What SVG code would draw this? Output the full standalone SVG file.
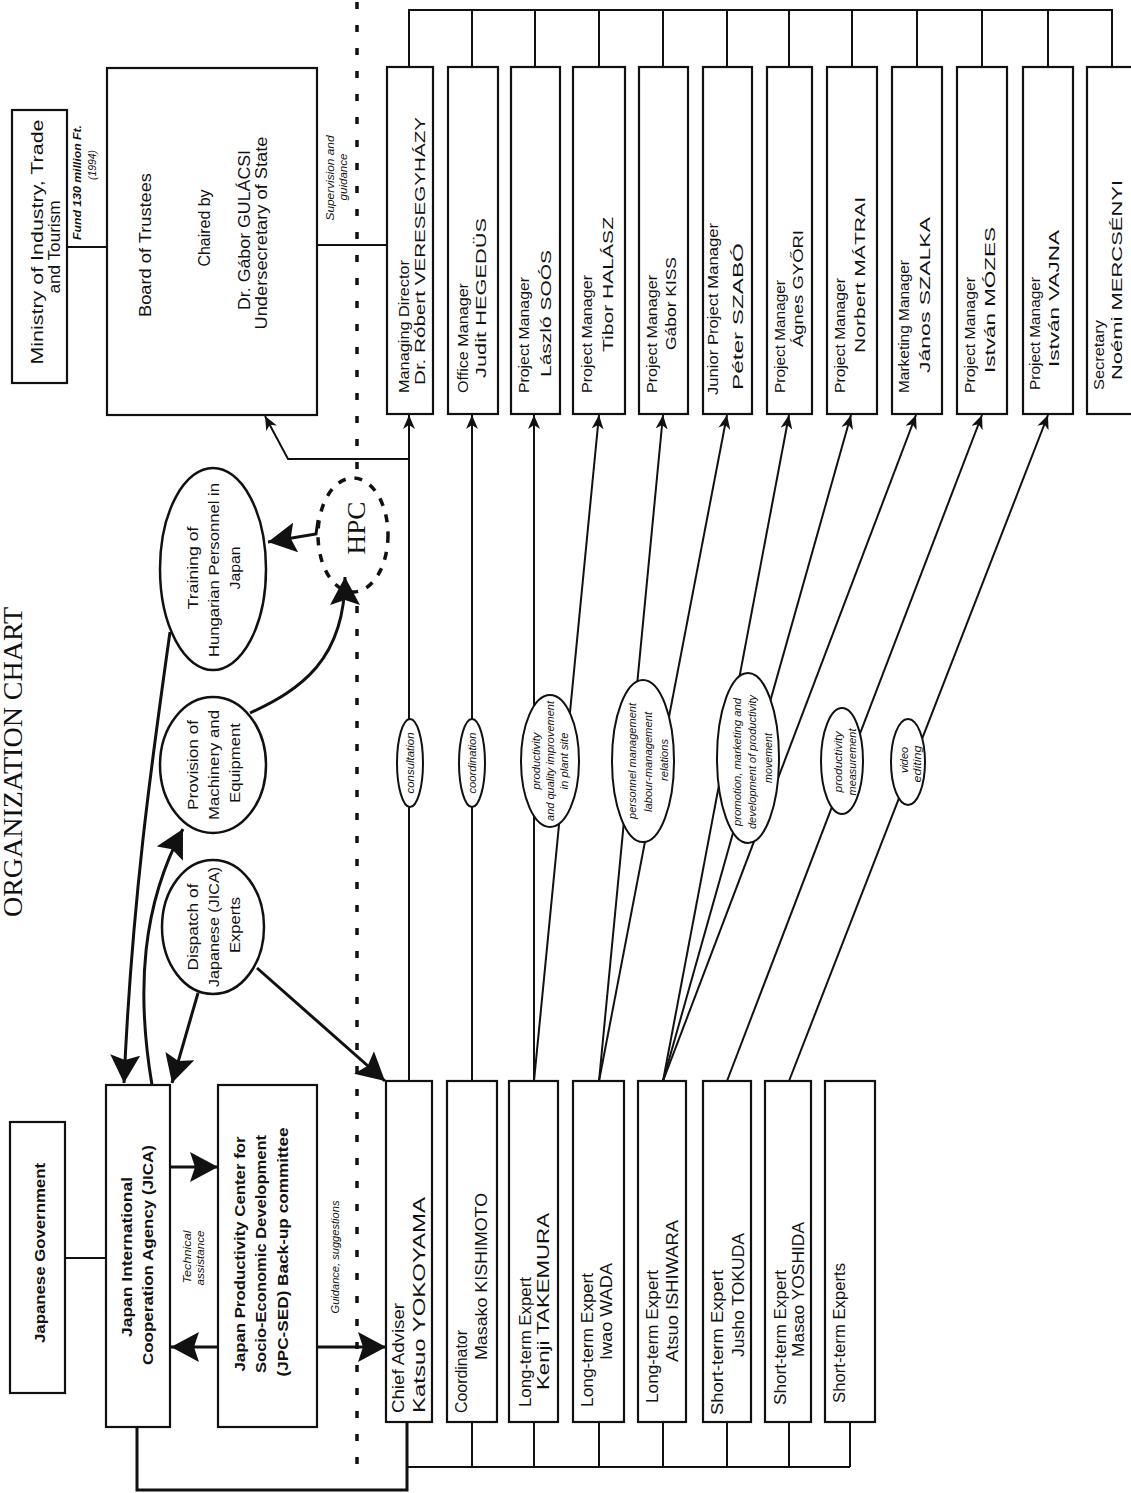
<svg xmlns="http://www.w3.org/2000/svg" width="1131" height="1493" viewBox="0 0 1131 1493">
<defs>
<style>
.box{fill:#fff;stroke:#111;stroke-width:2.2}
.ell{fill:#fff;stroke:#111;stroke-width:2.5}
.lab{fill:#fff;stroke:#111;stroke-width:2}
.ln{stroke:#111;stroke-width:2;fill:none}
.tk{stroke:#111;stroke-width:3;fill:none}
.dot{stroke:#111;stroke-width:3.5;stroke-dasharray:7 16;fill:none}
text{font-family:"Liberation Sans",Arial,sans-serif;fill:#111}
.n{font-size:15px}
.m{font-size:16px}
.b{font-weight:bold}
.s{font-size:11px;font-style:italic}
.c{text-anchor:middle}
</style>
<marker id="ar" viewBox="0 0 14 12" refX="14" refY="6" markerWidth="14" markerHeight="12" markerUnits="userSpaceOnUse" orient="auto"><path d="M0,0 L14,6 L0,12 L4,6 Z" fill="#111"/></marker>
<marker id="big" viewBox="0 0 28 30" refX="28" refY="15" markerWidth="28" markerHeight="30" markerUnits="userSpaceOnUse" orient="auto"><path d="M0,0 L28,15 L0,30 L5,15 Z" fill="#111"/></marker>
</defs>
<rect width="1131" height="1493" fill="#fff"/>

<text style="font-family:'Liberation Serif','Times New Roman',serif;font-size:27px" class="c" transform="translate(22 762) rotate(-90)" textLength="310" lengthAdjust="spacingAndGlyphs">ORGANIZATION CHART</text>

<path class="dot" d="M357,2 L357,470 M357,606 L357,1480"/>

<g id="connectors">
<path class="ln" d="M67,247 L107,247"/>
<path class="ln" d="M317,245 L387,245"/>
<path class="ln" d="M65,1258 L106,1258"/>
<path class="ln" d="M409,67 L409,10 L1112,10 L1112,67"/>
<path class="ln" d="M472,10 V67 M535,10 V67 M599,10 V67 M663,10 V67 M727,10 V67 M789,10 V67 M852,10 V67 M917,10 V67 M982,10 V67 M1048,10 V67"/>
<path class="ln" d="M407,1467 L850,1467 M472,1422 V1467 M534,1422 V1467 M599,1422 V1467 M663,1422 V1467 M727,1422 V1467 M789,1422 V1467 M850,1422 V1467"/>
<path class="tk" d="M137,1427 L137,1490 L407,1490 L407,1422"/>
<path class="ln" d="M409,1081 L409,415" marker-end="url(#ar)"/>
<path class="ln" d="M472,1081 L472,415" marker-end="url(#ar)"/>
<path class="ln" d="M534,1081 L534,415" marker-end="url(#ar)"/>
<path class="ln" d="M534,1081 L599,415" marker-end="url(#ar)"/>
<path class="ln" d="M599,1081 L663,415" marker-end="url(#ar)"/>
<path class="ln" d="M599,1081 L727,415" marker-end="url(#ar)"/>
<path class="ln" d="M663,1081 L789,415" marker-end="url(#ar)"/>
<path class="ln" d="M663,1081 L851,415" marker-end="url(#ar)"/>
<path class="ln" d="M663,1081 L916,415" marker-end="url(#ar)"/>
<path class="ln" d="M727,1081 L982,415" marker-end="url(#ar)"/>
<path class="ln" d="M789,1081 L1048,415" marker-end="url(#ar)"/>
<path class="ln" d="M409,459 L288,459 L265,416" marker-end="url(#ar)"/>
<path class="tk" d="M170,632 C152,760 132,900 124,1083" marker-end="url(#big)"/>
<path class="tk" d="M152,1085 C136,990 142,905 183,829" marker-end="url(#big)"/>
<path class="tk" d="M198,993 L172,1083" marker-end="url(#big)"/>
<path class="tk" d="M257,968 L385,1081" marker-end="url(#big)"/>
<path class="tk" d="M170,1167 L218,1167" marker-end="url(#big)"/>
<path class="tk" d="M218,1347 L171,1347" marker-end="url(#big)"/>
<path class="tk" d="M317,1347 L386,1347" marker-end="url(#big)"/>
<path class="tk" d="M318,520 L316,534 L268,542" marker-end="url(#big)"/>
<path class="tk" d="M250,713 C300,690 345,660 345,577" marker-end="url(#big)"/>
<text class="s" style="font-weight:bold" transform="translate(81 240) rotate(-90)" textLength="115" lengthAdjust="spacingAndGlyphs">Fund 130 million Ft.</text>
<text class="s c" transform="translate(96 165) rotate(-90)" textLength="30" lengthAdjust="spacingAndGlyphs">(1994)</text>
<text class="s c" transform="translate(334 178) rotate(-90)" textLength="85" lengthAdjust="spacingAndGlyphs">Supervision and</text>
<text class="s c" transform="translate(347 177) rotate(-90)" textLength="47" lengthAdjust="spacingAndGlyphs">guidance</text>
<text class="s c" transform="translate(191 1257) rotate(-90)" textLength="53" lengthAdjust="spacingAndGlyphs">Technical</text>
<text class="s c" transform="translate(204 1258) rotate(-90)" textLength="55" lengthAdjust="spacingAndGlyphs">assistance</text>
<text class="s c" transform="translate(339 1257) rotate(-90)" textLength="113" lengthAdjust="spacingAndGlyphs">Guidance, suggestions</text>
</g>

<g id="label-consultation">
<ellipse class="lab" cx="410" cy="763" rx="13" ry="44"/>
<text class="s c" transform="translate(414 763) rotate(-90)" textLength="61" lengthAdjust="spacingAndGlyphs">consultation</text>
</g>
<g id="label-coordination">
<ellipse class="lab" cx="472" cy="763" rx="13" ry="44"/>
<text class="s c" transform="translate(476 763) rotate(-90)" textLength="61" lengthAdjust="spacingAndGlyphs">coordination</text>
</g>
<g id="label-productivity">
<ellipse class="lab" cx="550" cy="761" rx="29" ry="66"/>
<text class="s c" transform="translate(540 761) rotate(-90)" textLength="57" lengthAdjust="spacingAndGlyphs">productivity</text>
<text class="s c" transform="translate(554 761) rotate(-90)" textLength="120" lengthAdjust="spacingAndGlyphs">and quality improvement</text>
<text class="s c" transform="translate(568 761) rotate(-90)" textLength="57" lengthAdjust="spacingAndGlyphs">in plant site</text>
</g>
<g id="label-personnel">
<ellipse class="lab" cx="643" cy="761" rx="31" ry="81"/>
<text class="s c" transform="translate(636 761) rotate(-90)" textLength="116" lengthAdjust="spacingAndGlyphs">personnel management</text>
<text class="s c" transform="translate(652 762) rotate(-90)" textLength="100" lengthAdjust="spacingAndGlyphs">labour-management</text>
<text class="s c" transform="translate(668 760) rotate(-90)" textLength="42" lengthAdjust="spacingAndGlyphs">relations</text>
</g>
<g id="label-promotion">
<ellipse class="lab" cx="748" cy="758" rx="31" ry="85"/>
<text class="s c" transform="translate(741 762) rotate(-90)" textLength="128" lengthAdjust="spacingAndGlyphs">promotion, marketing and</text>
<text class="s c" transform="translate(756 762) rotate(-90)" textLength="134" lengthAdjust="spacingAndGlyphs">development of productivity</text>
<text class="s c" transform="translate(772 758) rotate(-90)" textLength="50" lengthAdjust="spacingAndGlyphs">movement</text>
</g>
<g id="label-measurement">
<ellipse class="lab" cx="842" cy="761" rx="21" ry="53"/>
<text class="s c" transform="translate(842 762) rotate(-90)" textLength="61" lengthAdjust="spacingAndGlyphs">productivity</text>
<text class="s c" transform="translate(856 762) rotate(-90)" textLength="67" lengthAdjust="spacingAndGlyphs">measurement</text>
</g>
<g id="label-video">
<ellipse class="lab" cx="908" cy="762" rx="17" ry="43"/>
<text class="s c" transform="translate(908 760) rotate(-90)" textLength="26" lengthAdjust="spacingAndGlyphs">video</text>
<text class="s c" transform="translate(921 764) rotate(-90)" textLength="37" lengthAdjust="spacingAndGlyphs">editing</text>
</g>

<g id="ministry">
<rect class="box" x="12" y="110" width="55" height="273"/>
<text class="m c" transform="translate(43 242) rotate(-90)" textLength="245" lengthAdjust="spacingAndGlyphs">Ministry of Industry, Trade</text>
<text class="m c" transform="translate(60 247) rotate(-90)" textLength="93" lengthAdjust="spacingAndGlyphs">and Tourism</text>
</g>
<g id="board">
<rect class="box" x="107" y="68" width="210" height="347"/>
<text class="m c" transform="translate(151 245) rotate(-90)" textLength="144" lengthAdjust="spacingAndGlyphs">Board of Trustees</text>
<text class="m c" transform="translate(210 228) rotate(-90)" textLength="77" lengthAdjust="spacingAndGlyphs">Chaired by</text>
<text class="m c" transform="translate(250 230) rotate(-90)" textLength="160" lengthAdjust="spacingAndGlyphs">Dr. Gábor GULÁCSI</text>
<text class="m c" transform="translate(267 233) rotate(-90)" textLength="193" lengthAdjust="spacingAndGlyphs">Undersecretary of State</text>
</g>
<g id="japanese-government">
<rect class="box" x="10" y="1122" width="55" height="271"/>
<text class="n b c" transform="translate(45 1253) rotate(-90)" textLength="180" lengthAdjust="spacingAndGlyphs">Japanese Government</text>
</g>
<g id="jica">
<rect class="box" x="106" y="1085" width="64" height="342"/>
<text class="n b c" transform="translate(132 1257) rotate(-90)" textLength="160" lengthAdjust="spacingAndGlyphs">Japan International</text>
<text class="n b c" transform="translate(153 1255) rotate(-90)" textLength="220" lengthAdjust="spacingAndGlyphs">Cooperation Agency (JICA)</text>
</g>
<g id="jpc-sed">
<rect class="box" x="218" y="1085" width="99" height="342"/>
<text class="n b c" transform="translate(245 1254) rotate(-90)" textLength="235" lengthAdjust="spacingAndGlyphs">Japan Productivity Center for</text>
<text class="n b c" transform="translate(266 1254) rotate(-90)" textLength="238" lengthAdjust="spacingAndGlyphs">Socio-Economic Development</text>
<text class="n b c" transform="translate(288 1252) rotate(-90)" textLength="249" lengthAdjust="spacingAndGlyphs">(JPC-SED) Back-up committee</text>
</g>
<g id="dispatch">
<ellipse class="ell" cx="213" cy="927" rx="51" ry="67"/>
<text class="n c" transform="translate(198 927) rotate(-90)" textLength="87" lengthAdjust="spacingAndGlyphs">Dispatch of</text>
<text class="n c" transform="translate(219 927) rotate(-90)" textLength="120" lengthAdjust="spacingAndGlyphs">Japanese (JICA)</text>
<text class="n c" transform="translate(240 925) rotate(-90)" textLength="56" lengthAdjust="spacingAndGlyphs">Experts</text>
</g>
<g id="provision">
<ellipse class="ell" cx="213" cy="765" rx="53" ry="68"/>
<text class="n c" transform="translate(198 765) rotate(-90)" textLength="90" lengthAdjust="spacingAndGlyphs">Provision of</text>
<text class="n c" transform="translate(219 765) rotate(-90)" textLength="110" lengthAdjust="spacingAndGlyphs">Machinery and</text>
<text class="n c" transform="translate(240 763) rotate(-90)" textLength="80" lengthAdjust="spacingAndGlyphs">Equipment</text>
</g>
<g id="training">
<ellipse class="ell" cx="213" cy="569" rx="53" ry="101"/>
<text class="n c" transform="translate(198 568) rotate(-90)" textLength="83" lengthAdjust="spacingAndGlyphs">Training of</text>
<text class="n c" transform="translate(219 570) rotate(-90)" textLength="174" lengthAdjust="spacingAndGlyphs">Hungarian Personnel in</text>
<text class="n c" transform="translate(240 568) rotate(-90)" textLength="43" lengthAdjust="spacingAndGlyphs">Japan</text>
</g>
<g id="hpc">
<ellipse cx="353" cy="535" rx="35" ry="57" fill="none" stroke="#111" stroke-width="3.5" stroke-dasharray="8 9"/>
<text class="c" style="font-family:'Liberation Serif','Times New Roman',serif;font-size:26px" transform="translate(365 528) rotate(-90)" textLength="53" lengthAdjust="spacingAndGlyphs">HPC</text>
</g>

<g id="managing-director">
<rect class="box" x="387" y="67" width="46" height="347"/>
<text class="n" transform="translate(409 393) rotate(-90)" textLength="133" lengthAdjust="spacingAndGlyphs">Managing Director</text>
<text class="n" transform="translate(425 385) rotate(-90)" textLength="268" lengthAdjust="spacingAndGlyphs">Dr. Róbert VERESEGYHÁZY</text>
</g>
<g id="office-manager">
<rect class="box" x="448" y="67" width="50" height="347"/>
<text class="n" transform="translate(468 393) rotate(-90)" textLength="110" lengthAdjust="spacingAndGlyphs">Office Manager</text>
<text class="n" transform="translate(486 378) rotate(-90)" textLength="160" lengthAdjust="spacingAndGlyphs">Judit HEGEDÜS</text>
</g>
<g id="pm-soos">
<rect class="box" x="511" y="67" width="49" height="347"/>
<text class="n" transform="translate(529 393) rotate(-90)" textLength="116" lengthAdjust="spacingAndGlyphs">Project Manager</text>
<text class="n" transform="translate(551 377) rotate(-90)" textLength="127" lengthAdjust="spacingAndGlyphs">László SOÓS</text>
</g>
<g id="pm-halasz">
<rect class="box" x="573" y="67" width="52" height="347"/>
<text class="n" transform="translate(592 393) rotate(-90)" textLength="118" lengthAdjust="spacingAndGlyphs">Project Manager</text>
<text class="n" transform="translate(613 352) rotate(-90)" textLength="135" lengthAdjust="spacingAndGlyphs">Tibor HALÁSZ</text>
</g>
<g id="pm-kiss">
<rect class="box" x="639" y="67" width="49" height="347"/>
<text class="n" transform="translate(657 393) rotate(-90)" textLength="118" lengthAdjust="spacingAndGlyphs">Project Manager</text>
<text class="n" transform="translate(676 350) rotate(-90)" textLength="93" lengthAdjust="spacingAndGlyphs">Gábor KISS</text>
</g>
<g id="jpm-szabo">
<rect class="box" x="703" y="67" width="49" height="347"/>
<text class="n" transform="translate(718 395) rotate(-90)" textLength="172" lengthAdjust="spacingAndGlyphs">Junior Project Manager</text>
<text class="n" transform="translate(743 390) rotate(-90)" textLength="147" lengthAdjust="spacingAndGlyphs">Péter SZABÓ</text>
</g>
<g id="pm-gyori">
<rect class="box" x="767" y="67" width="45" height="347"/>
<text class="n" transform="translate(785 393) rotate(-90)" textLength="113" lengthAdjust="spacingAndGlyphs">Project Manager</text>
<text class="n" transform="translate(803 347) rotate(-90)" textLength="117" lengthAdjust="spacingAndGlyphs">Ágnes GYŐRI</text>
</g>
<g id="pm-matrai">
<rect class="box" x="827" y="67" width="50" height="347"/>
<text class="n" transform="translate(845 393) rotate(-90)" textLength="115" lengthAdjust="spacingAndGlyphs">Project Manager</text>
<text class="n" transform="translate(865 353) rotate(-90)" textLength="156" lengthAdjust="spacingAndGlyphs">Norbert MÁTRAI</text>
</g>
<g id="mm-szalka">
<rect class="box" x="892" y="67" width="50" height="347"/>
<text class="n" transform="translate(909 393) rotate(-90)" textLength="133" lengthAdjust="spacingAndGlyphs">Marketing Manager</text>
<text class="n" transform="translate(930 373) rotate(-90)" textLength="156" lengthAdjust="spacingAndGlyphs">János SZALKA</text>
</g>
<g id="pm-mozes">
<rect class="box" x="957" y="67" width="50" height="347"/>
<text class="n" transform="translate(975 393) rotate(-90)" textLength="116" lengthAdjust="spacingAndGlyphs">Project Manager</text>
<text class="n" transform="translate(995 373) rotate(-90)" textLength="146" lengthAdjust="spacingAndGlyphs">István MÓZES</text>
</g>
<g id="pm-vajna">
<rect class="box" x="1023" y="67" width="50" height="347"/>
<text class="n" transform="translate(1040 390) rotate(-90)" textLength="113" lengthAdjust="spacingAndGlyphs">Project Manager</text>
<text class="n" transform="translate(1059 367) rotate(-90)" textLength="137" lengthAdjust="spacingAndGlyphs">István VAJNA</text>
</g>
<g id="secretary">
<rect class="box" x="1087" y="67" width="50" height="347"/>
<text class="n" transform="translate(1104 390) rotate(-90)" textLength="70" lengthAdjust="spacingAndGlyphs">Secretary</text>
<text class="n" transform="translate(1122 380) rotate(-90)" textLength="200" lengthAdjust="spacingAndGlyphs">Noémi MERCSÉNYI</text>
</g>

<g id="chief-adviser">
<rect class="box" x="386" y="1081" width="46" height="341"/>
<text class="m" transform="translate(404 1413) rotate(-90)" textLength="110" lengthAdjust="spacingAndGlyphs">Chief Adviser</text>
<text class="m" transform="translate(425 1413) rotate(-90)" textLength="216" lengthAdjust="spacingAndGlyphs">Katsuo YOKOYAMA</text>
</g>
<g id="coordinator">
<rect class="box" x="447" y="1081" width="50" height="341"/>
<text class="m" transform="translate(467 1413) rotate(-90)" textLength="83" lengthAdjust="spacingAndGlyphs">Coordinator</text>
<text class="m" transform="translate(487 1360) rotate(-90)" textLength="167" lengthAdjust="spacingAndGlyphs">Masako KISHIMOTO</text>
</g>
<g id="lte-takemura">
<rect class="box" x="509" y="1081" width="49" height="341"/>
<text class="m" transform="translate(531 1407) rotate(-90)" textLength="130" lengthAdjust="spacingAndGlyphs">Long-term Expert</text>
<text class="m" transform="translate(549 1390) rotate(-90)" textLength="177" lengthAdjust="spacingAndGlyphs">Kenji TAKEMURA</text>
</g>
<g id="lte-wada">
<rect class="box" x="573" y="1081" width="51" height="341"/>
<text class="m" transform="translate(593 1407) rotate(-90)" textLength="134" lengthAdjust="spacingAndGlyphs">Long-term Expert</text>
<text class="m" transform="translate(612 1360) rotate(-90)" textLength="97" lengthAdjust="spacingAndGlyphs">Iwao WADA</text>
</g>
<g id="lte-ishiwara">
<rect class="box" x="638" y="1081" width="48" height="341"/>
<text class="m" transform="translate(658 1403) rotate(-90)" textLength="133" lengthAdjust="spacingAndGlyphs">Long-term Expert</text>
<text class="m" transform="translate(678 1362) rotate(-90)" textLength="142" lengthAdjust="spacingAndGlyphs">Atsuo ISHIWARA</text>
</g>
<g id="ste-tokuda">
<rect class="box" x="703" y="1081" width="48" height="341"/>
<text class="m" transform="translate(723 1415) rotate(-90)" textLength="145" lengthAdjust="spacingAndGlyphs">Short-term Expert</text>
<text class="m" transform="translate(744 1357) rotate(-90)" textLength="124" lengthAdjust="spacingAndGlyphs">Jusho TOKUDA</text>
</g>
<g id="ste-yoshida">
<rect class="box" x="765" y="1081" width="46" height="341"/>
<text class="m" transform="translate(786 1405) rotate(-90)" textLength="135" lengthAdjust="spacingAndGlyphs">Short-term Expert</text>
<text class="m" transform="translate(804 1357) rotate(-90)" textLength="135" lengthAdjust="spacingAndGlyphs">Masao YOSHIDA</text>
</g>
<g id="ste-others">
<rect class="box" x="825" y="1081" width="50" height="341"/>
<text class="m" transform="translate(845 1403) rotate(-90)" textLength="140" lengthAdjust="spacingAndGlyphs">Short-term Experts</text>
</g>
</svg>
